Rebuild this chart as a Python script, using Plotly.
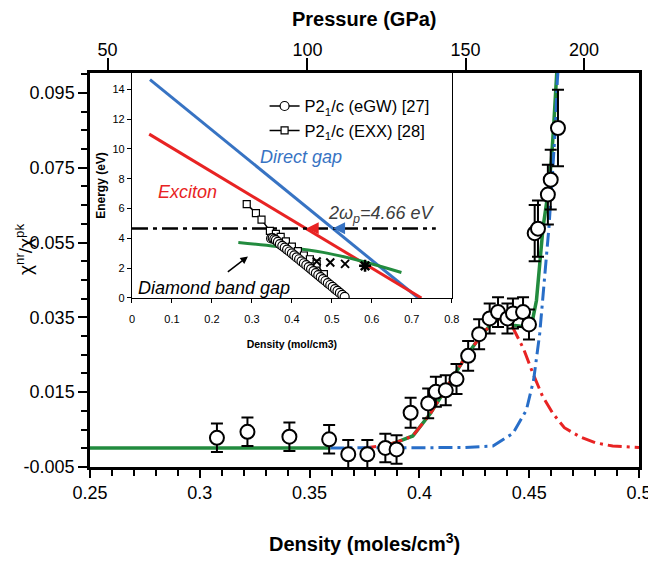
import plotly.graph_objects as go

# ---------------- main panel data ----------------
density = [0.3078, 0.3217, 0.3408, 0.3589, 0.3676, 0.3763, 0.3845, 0.3896, 0.3960, 0.4040,
           0.4075, 0.4120, 0.4169, 0.4222, 0.4272, 0.4320, 0.4358, 0.4401, 0.4426, 0.4472,
           0.4499, 0.4525, 0.4540, 0.4585, 0.4598, 0.4631]
chi_ratio = [0.0028, 0.0044, 0.0031, 0.0024, -0.0016, -0.0016, 0.0001, -0.0003, 0.0095, 0.0120,
             0.0151, 0.0155, 0.0185, 0.0247, 0.0305, 0.0347, 0.0364, 0.0347, 0.0360, 0.0364,
             0.0331, 0.0575, 0.0587, 0.0678, 0.0718, 0.0856]
chi_err = [0.0038, 0.0038, 0.0038, 0.0038, 0.0038, 0.0038, 0.0038, 0.0038, 0.0040, 0.0040,
           0.0040, 0.0040, 0.0040, 0.0040, 0.0040, 0.0040, 0.0040, 0.0040, 0.0040, 0.0040,
           0.0040, 0.0075, 0.0075, 0.0080, 0.0080, 0.0102]

green_density = [0.25, 0.3595, None, 0.385, 0.390, 0.397, 0.405, 0.412, 0.420, 0.4275, 0.4335,
                 0.438, 0.4426, 0.4485, 0.4512, 0.4533, 0.455, 0.4563, 0.4585, 0.4601, 0.4611,
                 0.4619, 0.4626, 0.4633]
green_chi = [0.0001, 0.0001, None, 0.0008, 0.0017, 0.0033, 0.0093, 0.0158, 0.0235, 0.0297, 0.0337,
             0.0351, 0.0329, 0.0324, 0.0333, 0.0395, 0.0502, 0.0590, 0.0680, 0.0769, 0.0857,
             0.0947, 0.1018, 0.1080]

red_density = [0.374, 0.385, 0.390, 0.397, 0.405, 0.412, 0.420, 0.4275, 0.4335, 0.438, 0.4426,
               0.4475, 0.4517, 0.4560, 0.4608, 0.466, 0.473, 0.480, 0.488, 0.500]
red_chi = [0.0000, 0.0008, 0.0017, 0.0033, 0.0093, 0.0158, 0.0235, 0.0297, 0.0337, 0.0351, 0.0322,
           0.0265, 0.0200, 0.0140, 0.0093, 0.0055, 0.0031, 0.0015, 0.0006, 0.0002]

blue_density = [0.3595, 0.380, 0.400, 0.420, 0.4335, 0.4426, 0.4487, 0.452, 0.4548, 0.457, 0.459,
                0.4605, 0.4619, 0.4628, 0.4636]
blue_chi = [0.0001, 0.0001, 0.0001, 0.0002, 0.0006, 0.0040, 0.0102, 0.0182, 0.0307, 0.0457, 0.0591,
            0.0724, 0.0857, 0.0982, 0.1050]

x_ticks = [0.25, 0.30, 0.35, 0.40, 0.45, 0.50]
x_tick_labels = ["0.25", "0.3", "0.35", "0.4", "0.45", "0.5"]
y_ticks = [-0.005, 0.015, 0.035, 0.055, 0.075, 0.095]
y_tick_labels = ["-0.005", "0.015", "0.035", "0.055", "0.075", "0.095"]
pressure_labels = ["50", "100", "150", "200"]
pressure_at_density = [0.258, 0.349, 0.421, 0.475]

# ---------------- inset data ----------------
direct_gap_d = [0.045, 0.716]
direct_gap_e = [14.66, 0.0]
exciton_d = [0.043, 0.724]
exciton_e = [11.0, 0.0]
diamond_d = [0.266, 0.362, 0.478, 0.578, 0.674]
diamond_e = [3.73, 3.46, 3.06, 2.45, 1.71]
plasmon_d = [0.0, 0.76]
plasmon_e = [4.66, 4.66]
egw_d = [0.348, 0.352, 0.356, 0.360, 0.365, 0.370, 0.376, 0.382, 0.388, 0.394, 0.400, 0.406,
         0.412, 0.418, 0.424, 0.430, 0.436, 0.442, 0.448, 0.454, 0.460, 0.466, 0.472, 0.478,
         0.484, 0.490, 0.496, 0.502, 0.508, 0.514, 0.520, 0.526, 0.532]
egw_e = [4.00, 4.02, 3.95, 3.88, 3.76, 3.62, 3.50, 3.38, 3.25, 3.12, 3.00, 2.86,
         2.72, 2.60, 2.46, 2.33, 2.20, 2.07, 1.94, 1.80, 1.67, 1.54, 1.40, 1.27,
         1.14, 1.00, 0.87, 0.74, 0.60, 0.47, 0.34, 0.21, 0.08]
exx_d = [0.287, 0.310, 0.324, 0.345, 0.360, 0.372, 0.385, 0.400, 0.415, 0.430, 0.445, 0.462, 0.480]
exx_e = [6.30, 5.70, 5.26, 4.50, 4.30, 4.10, 3.80, 3.45, 3.15, 2.85, 2.60, 2.30, 1.60]
xmark_d = [0.462, 0.496, 0.533]
xmark_e = [2.45, 2.38, 2.29]
star_d = [0.583]
star_e = [2.16]
exciton_cross_d = [0.437]
exciton_cross_e = [4.68]
direct_cross_d = [0.503]
direct_cross_e = [4.68]

GREEN = "rgb(34,139,62)"
RED = "rgb(232,35,35)"
BLUE = "rgb(40,110,200)"
IBLUE = "rgb(55,115,195)"
FONT = "Liberation Sans, Arial, sans-serif"
DASHDOT = "14px,5px,3px,5px"

fig = go.Figure()

# main curves
fig.add_trace(go.Scatter(x=green_density, y=green_chi, mode="lines", xaxis="x", yaxis="y",
                         line=dict(color=GREEN, width=3.5), showlegend=False, hoverinfo="skip"))
fig.add_trace(go.Scatter(x=red_density, y=red_chi, mode="lines", xaxis="x", yaxis="y",
                         line=dict(color=RED, width=3, dash=DASHDOT), showlegend=False, hoverinfo="skip"))
fig.add_trace(go.Scatter(x=blue_density, y=blue_chi, mode="lines", xaxis="x", yaxis="y",
                         line=dict(color=BLUE, width=3, dash=DASHDOT), showlegend=False, hoverinfo="skip"))
fig.add_trace(go.Scatter(x=density, y=chi_ratio, mode="markers", xaxis="x", yaxis="y",
                         error_y=dict(type="data", array=chi_err, color="black", thickness=2, width=6),
                         marker=dict(symbol="circle", size=14, color="white",
                                     line=dict(color="black", width=2)),
                         showlegend=False))
# dummy trace for top pressure axis
fig.add_trace(go.Scatter(x=pressure_at_density, y=[None] * len(pressure_at_density), xaxis="x3", yaxis="y",
                         mode="markers", showlegend=False, hoverinfo="skip"))

# inset curves
fig.add_trace(go.Scatter(x=direct_gap_d, y=direct_gap_e, mode="lines", xaxis="x2", yaxis="y2",
                         line=dict(color=IBLUE, width=3), showlegend=False, hoverinfo="skip"))
fig.add_trace(go.Scatter(x=exciton_d, y=exciton_e, mode="lines", xaxis="x2", yaxis="y2",
                         line=dict(color=RED, width=3), showlegend=False, hoverinfo="skip"))
fig.add_trace(go.Scatter(x=plasmon_d, y=plasmon_e, mode="lines", xaxis="x2", yaxis="y2",
                         line=dict(color="black", width=2.5, dash="16px,5px,4px,5px"), showlegend=False,
                         hoverinfo="skip"))
fig.add_trace(go.Scatter(x=diamond_d, y=diamond_e, mode="lines", xaxis="x2", yaxis="y2",
                         line=dict(color=GREEN, width=3, shape="spline"), showlegend=False, hoverinfo="skip"))
fig.add_trace(go.Scatter(x=exx_d, y=exx_e, mode="lines+markers", xaxis="x2", yaxis="y2",
                         name="P2<sub>1</sub>/c (EXX) [28]",
                         line=dict(color="black", width=1.5),
                         marker=dict(symbol="square", size=7, color="white", line=dict(color="black", width=1.2))))
fig.add_trace(go.Scatter(x=egw_d, y=egw_e, mode="lines+markers", xaxis="x2", yaxis="y2",
                         name="P2<sub>1</sub>/c (eGW) [27]",
                         line=dict(color="black", width=1.5),
                         marker=dict(symbol="circle", size=9, color="white", line=dict(color="black", width=1.2))))
fig.add_trace(go.Scatter(x=xmark_d, y=xmark_e, mode="markers", xaxis="x2", yaxis="y2",
                         marker=dict(symbol="x-thin-open", size=8, color="black", line=dict(color="black", width=2)),
                         showlegend=False, hoverinfo="skip"))
fig.add_trace(go.Scatter(x=star_d, y=star_e, mode="markers", xaxis="x2", yaxis="y2",
                         marker=dict(symbol="asterisk-open", size=10, color="black", line=dict(color="black", width=2.5)),
                         showlegend=False, hoverinfo="skip"))
fig.add_trace(go.Scatter(x=exciton_cross_d, y=exciton_cross_e, mode="markers", xaxis="x2", yaxis="y2",
                         marker=dict(symbol="arrow-left", size=12, color=RED),
                         showlegend=False, hoverinfo="skip"))
fig.add_trace(go.Scatter(x=direct_cross_d, y=direct_cross_e, mode="markers", xaxis="x2", yaxis="y2",
                         marker=dict(symbol="arrow-left", size=12, color=IBLUE),
                         showlegend=False, hoverinfo="skip"))

tickfont = dict(family=FONT, size=18, color="black")
insetfont = dict(family=FONT, size=11, color="black")

# the page body adds an 8 px offset; the figure is sized so the plot lands where the reference has it
fig.update_layout(
    width=648, height=553,
    margin=dict(l=82, r=17, t=65, b=94, autoexpand=False),
    paper_bgcolor="white", plot_bgcolor="white",
    font=dict(family=FONT, color="black"),
    xaxis=dict(domain=[0, 1], range=[0.25, 0.5], tickmode="array", tickvals=x_ticks, ticktext=x_tick_labels,
               ticks="outside", ticklen=8, tickwidth=2, tickcolor="black", showline=True, linewidth=2.5,
               linecolor="black", mirror=True, showgrid=False, zeroline=False, tickfont=tickfont,
               automargin=False,
               minor=dict(tickmode="linear", tick0=0.25, dtick=0.01, ticks="outside", ticklen=6,
                          tickwidth=1.5, tickcolor="black", showgrid=False),
               anchor="y"),
    yaxis=dict(domain=[0, 1], range=[-0.005, 0.1003], tickmode="array", tickvals=y_ticks, ticktext=y_tick_labels,
               ticks="outside", ticklen=9, tickwidth=2, tickcolor="black", showline=True, linewidth=2.5,
               linecolor="black", mirror=True, showgrid=False, zeroline=False, tickfont=tickfont,
               automargin=False,
               minor=dict(tickmode="linear", tick0=-0.005, dtick=0.005, ticks="outside", ticklen=6,
                          tickwidth=1.5, tickcolor="black", showgrid=False),
               anchor="x"),
    xaxis3=dict(overlaying="x", side="top", anchor="y", range=[0.25, 0.5], tickmode="array",
                tickvals=pressure_at_density, ticktext=pressure_labels, ticks="outside", ticklen=12,
                tickwidth=2, tickcolor="black", showline=True, linewidth=2.5, linecolor="black",
                showgrid=False, zeroline=False, tickfont=tickfont, automargin=False, ticklabelstandoff=-5),
    xaxis2=dict(domain=[0.0765, 0.659], anchor="y2", range=[0, 0.8], tickmode="linear", tick0=0, dtick=0.1,
                ticks="outside", ticklen=4, tickwidth=1, tickcolor="black", showline=True, linewidth=1.2,
                linecolor="black", mirror=True, showgrid=False, zeroline=False, tickfont=insetfont,
                automargin=False, ticklabelstandoff=7,
                title=dict(text="<b>Density (mol/cm3)</b>", font=dict(family=FONT, size=10.5), standoff=16)),
    yaxis2=dict(domain=[0.429, 1.0], anchor="x2", range=[0, 15.1], tickmode="linear", tick0=0, dtick=2,
                ticks="outside", ticklen=4, tickwidth=1, tickcolor="black", showline=True, linewidth=1.2,
                linecolor="black", mirror=True, showgrid=False, zeroline=False, tickfont=insetfont,
                automargin=False,
                title=dict(text="<b>Energy (eV)</b>", font=dict(family=FONT, size=12), standoff=4)),
    legend=dict(x=0.318, y=0.96, xanchor="left", yanchor="top", bgcolor="rgba(0,0,0,0)",
                font=dict(family=FONT, size=16.5, color="black"), traceorder="reversed",
                tracegroupgap=0, itemwidth=30),
)

annotations = [
    dict(text="<b>Pressure (GPa)</b>", xref="paper", yref="paper", x=0.5, y=(467 - 19) / 394,
         xanchor="center", yanchor="middle", showarrow=False, font=dict(family=FONT, size=20)),
    dict(text="<b>Density (moles/cm<sup>3</sup>)</b>", xref="paper", yref="paper", x=0.5, y=(467 - 542) / 394,
         xanchor="center", yanchor="middle", showarrow=False, font=dict(family=FONT, size=20)),
    dict(text="χ<sup>nr</sup>/χ<sup>pk</sup>", xref="paper", yref="paper", x=(24 - 90) / 549, y=(467 - 250) / 394,
         xanchor="center", yanchor="middle", textangle=-90, showarrow=False, font=dict(family=FONT, size=19)),
    dict(text="<i>Direct gap</i>", xref="x2", yref="y2", x=0.423, y=9.45, showarrow=False,
         font=dict(family=FONT, size=18, color=IBLUE)),
    dict(text="<i>Exciton</i>", xref="x2", yref="y2", x=0.14, y=7.08, showarrow=False,
         font=dict(family=FONT, size=18, color=RED)),
    dict(text="<i>2ω<sub>p</sub>=4.66 eV</i>", xref="x2", yref="y2", x=0.625, y=5.6, showarrow=False,
         font=dict(family=FONT, size=18, color="rgb(60,60,60)")),
    dict(text="<i>Diamond band gap</i>", xref="x2", yref="y2", x=0.206, y=0.7, showarrow=False,
         font=dict(family=FONT, size=18, color="black")),
    dict(text="", xref="x2", yref="y2", x=0.29, y=2.79, axref="x2", ayref="y2", ax=0.236, ay=1.67,
         showarrow=True, arrowhead=2, arrowsize=1, arrowwidth=1.5, arrowcolor="black"),
]
fig.update_layout(annotations=annotations)

fig.write_html("out.html")
